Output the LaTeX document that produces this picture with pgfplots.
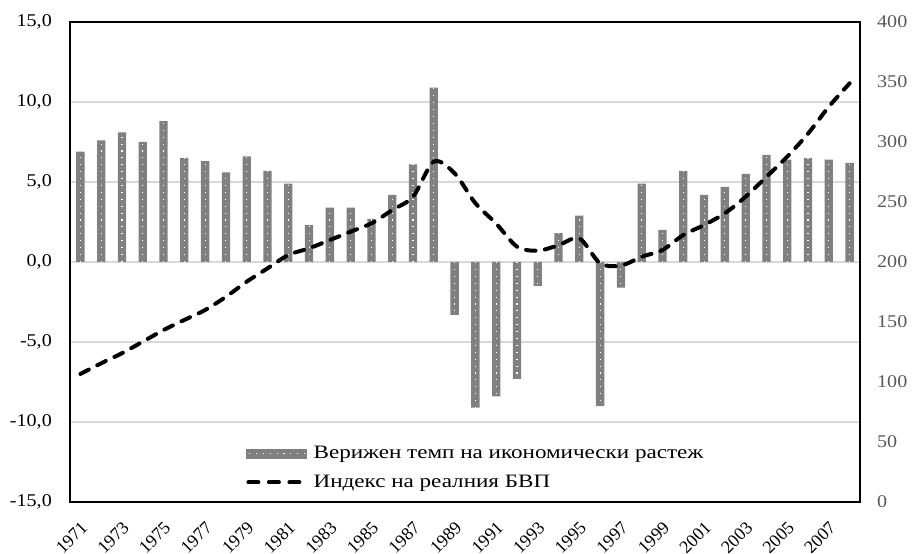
\documentclass[border=0pt]{standalone}
\usepackage{graphicx}
\usepackage{pgfplots}
\usepackage{pgfplotstable}
\pgfplotsset{compat=1.18}
\usepackage{fontspec}
\setmainfont{Liberation Serif}
\definecolor{barfill}{RGB}{128,128,128}
\definecolor{gridc}{RGB}{217,217,217}
\definecolor{rlab}{RGB}{89,89,89}

\pgfplotstableread{
i year g idx
0 1971 6.9 106.7
1 1972 7.6 115.6
2 1973 8.1 124.0
3 1974 7.5 133.6
4 1975 8.8 143.3
5 1976 6.5 151.7
6 1977 6.3 160.0
7 1978 5.6 171.0
8 1979 6.6 183.6
9 1980 5.7 194.7
10 1981 4.9 205.8
11 1982 2.3 211.4
12 1983 3.4 218.3
13 1984 3.4 225.3
14 1985 2.7 232.2
15 1986 4.2 243.3
16 1987 6.1 254.4
17 1988 10.9 283.6
18 1989 -3.3 273.9
19 1990 -9.1 249.0
20 1991 -8.4 232.0
21 1992 -7.3 212.8
22 1993 -1.5 209.4
23 1994 1.8 214.0
24 1995 2.9 219.7
25 1996 -9.0 198.9
26 1997 -1.6 197.0
27 1998 4.9 204.4
28 1999 2.0 210.0
29 2000 5.7 222.5
30 2001 4.2 230.8
31 2002 4.7 240.6
32 2003 5.5 254.4
33 2004 6.7 271.0
34 2005 6.4 287.8
35 2006 6.5 307.0
36 2007 6.4 329.4
37 2008 6.2 348.9
}\data

\begin{document}
\begin{tikzpicture}
\pgfplotsset{
  common/.style={
    scale only axis, width=790bp, height=480bp,
    xmin=-0.5, xmax=37.5,
    major tick length=0pt,
    /pgf/number format/assume math mode=true,
    tick label style={font=\fontsize{18}{21}\selectfont},
  }
}
\begin{axis}[common,
  ymin=-15, ymax=15, ytick={-15,-10,...,15},
  yticklabel={\scalebox{1.12}[1]{\pgfmathprintnumber[fixed, fixed zerofill, precision=1, use comma]{\tick}}},
  yticklabel style={inner sep=0pt, xshift=-18bp},
  ymajorgrids, grid style={draw=gridc, line width=1.2bp},
  axis line style={black, line width=1.3bp},
  xtick={0,2,...,36},
  xticklabels={1971,1973,1975,1977,1979,1981,1983,1985,1987,1989,1991,1993,1995,1997,1999,2001,2003,2005,2007},
  xticklabel style={xshift=4bp, yshift=-23bp, rotate=45, anchor=east, inner sep=0pt},
]
\addplot[ybar, bar width=8.3bp, fill=barfill, draw=none] table[x=i,y=g]{\data};
\addplot[ycomb, forget plot, white, line width=1.1bp, dash pattern=on 1.1bp off 5.8bp, mark=none] table[x=i,y=g]{\data};
\end{axis}
\begin{axis}[common,
  ymin=0, ymax=400, ytick={0,50,...,400},
  axis y line*=right, axis x line=none,
  y axis line style={draw=none},
  yticklabel={\scalebox{1.12}[1]{\pgfmathprintnumber{\tick}}},
  yticklabel style={text=rlab, inner sep=0pt, xshift=17bp},
  legend style={at={(0.2228,0.0708)}, anchor=west, draw=none, fill=none,
    font=\fontsize{19}{22}\selectfont, inner sep=0pt, row sep=10.5bp,
    nodes={inner sep=0pt, text height=14bp, text depth=4bp},
    /tikz/every odd column/.append style={column sep=7bp}},
  legend cell align=left,
]
\addlegendimage{legend image code/.code={
  \fill[barfill] (0bp,-4.5bp) rectangle (60bp,4.5bp);
  \draw[white, line width=1.1bp, dash pattern=on 1.1bp off 5.8bp] (2.5bp,0) -- (59bp,0);}}
\addlegendentry{\scalebox{1.22}[1]{Верижен темп на икономически растеж}}
\addplot[black, line width=4bp, dash pattern=on 9.5bp off 9.5bp, line cap=round, smooth, tension=0.5,
  legend image code/.code={\draw[black, line width=4bp, dash pattern=on 10bp off 10.5bp, line cap=round] (2bp,0) -- (53bp,0);}]
  table[x=i,y=idx]{\data};
\addlegendentry{\scalebox{1.22}[1]{Индекс на реалния БВП}}
\end{axis}
\pgfresetboundingbox
\useasboundingbox (-70bp,-52bp) rectangle (844bp,502bp);
\end{tikzpicture}
\end{document}
